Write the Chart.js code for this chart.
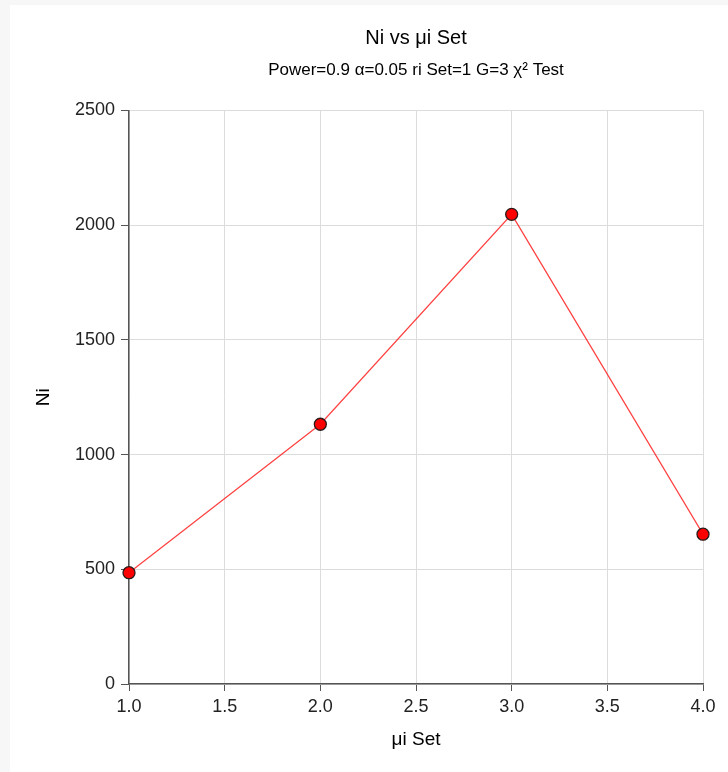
<!DOCTYPE html>
<html>
<head>
<meta charset="utf-8">
<script src="https://cdn.jsdelivr.net/npm/chart.js@4"></script>
<style>
  html, body { margin: 0; padding: 0; background: #f7f7f7; }
  #panel { position: absolute; left: 10px; top: 5px; width: 718px; height: 767px; background: #ffffff; }
  #chart { display: block; }
</style>
</head>
<body>
<div id="panel"><canvas id="chart" width="718" height="767"></canvas></div>
<script>
// data
const muSet = [1, 2, 3, 4];
const niValues = [485, 1132, 2047, 653];
const xTicks = [1.0, 1.5, 2.0, 2.5, 3.0, 3.5, 4.0];
const yTicks = [0, 500, 1000, 1500, 2000, 2500];

const fontFamily = "'Liberation Sans', Arial, sans-serif";
const points = muSet.map((x, i) => ({ x: x, y: niValues[i] }));

var ctx = document.getElementById("chart").getContext("2d");
new Chart(ctx, {
  type: 'line',
  data: {
    datasets: [{
      label: 'Ni',
      data: points,
      borderColor: 'rgba(255,30,30,0.85)',
      borderWidth: 1.2,
      backgroundColor: '#ff0000',
      pointBackgroundColor: '#ff0000',
      pointBorderColor: '#2a1a1a',
      pointBorderWidth: 1.3,
      pointRadius: 6,
      tension: 0,
      clip: false
    }]
  },
  options: {
    responsive: false,
    animation: false,
    layout: { padding: { left: 0, right: 25, top: 0, bottom: 0 } },
    plugins: {
      legend: { display: false },
      tooltip: { enabled: false },
      title: {
        display: true,
        text: 'Ni vs μi Set',
        fullSize: false,
        color: '#000',
        font: { family: fontFamily, size: 20, weight: 'normal' },
        padding: { top: 21, bottom: 5 }
      },
      subtitle: {
        display: true,
        text: 'Power=0.9 α=0.05 ri Set=1 G=3 χ² Test',
        fullSize: false,
        color: '#000',
        font: { family: fontFamily, size: 17, weight: 'normal' },
        padding: { top: 5, bottom: 30 }
      }
    },
    scales: {
      x: {
        type: 'linear',
        min: 1,
        max: 4,
        afterBuildTicks: axis => { axis.ticks = xTicks.map(v => ({ value: v })); },
        afterFit: axis => { axis.height = 88; },
        ticks: {
          color: '#222',
          font: { family: fontFamily, size: 18 },
          padding: 5,
          maxRotation: 0,
          callback: v => Number(v).toFixed(1)
        },
        grid: { color: '#dcdcdc', lineWidth: 1, tickLength: 7, tickColor: '#555' },
        border: { color: '#555', width: 1.5 },
        title: {
          display: true,
          text: 'μi Set',
          color: '#000',
          font: { family: fontFamily, size: 19 },
          padding: { top: 0, bottom: 20.6 }
        }
      },
      y: {
        min: 0,
        max: 2500,
        afterBuildTicks: axis => { axis.ticks = yTicks.map(v => ({ value: v })); },
        afterFit: axis => { axis.width = 119; },
        ticks: {
          color: '#222',
          font: { family: fontFamily, size: 18 },
          padding: 6,
          callback: v => String(v)
        },
        grid: { color: '#dcdcdc', lineWidth: 1, tickLength: 8, tickColor: '#555' },
        border: { color: '#555', width: 1.5 },
        title: {
          display: true,
          text: 'Ni',
          color: '#000',
          font: { family: fontFamily, size: 19 },
          padding: { top: 22, bottom: 0 }
        }
      }
    }
  }
});
</script>
</body>
</html>
